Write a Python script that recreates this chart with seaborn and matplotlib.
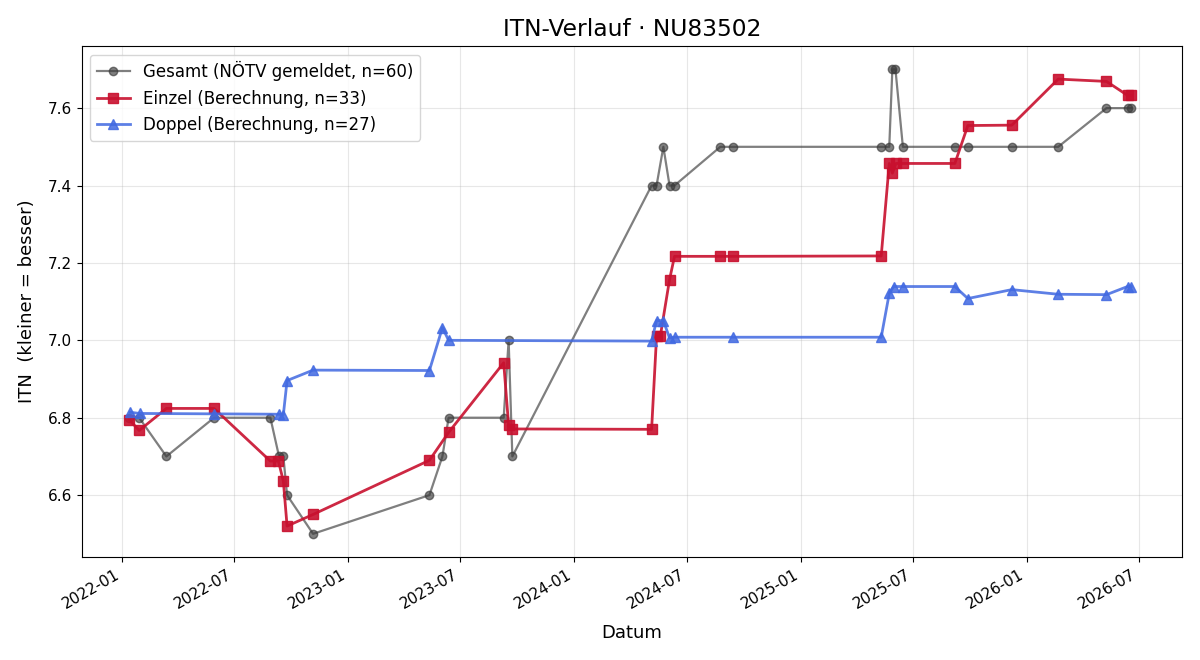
import matplotlib
matplotlib.use("Agg")
import matplotlib.pyplot as plt
import matplotlib.dates as mdates
import seaborn as sns
import pandas as pd

# Gesamt (NÖTV gemeldet)
gesamt_dates = ["2022-01-12", "2022-01-28", "2022-03-13", "2022-05-29", "2022-08-28",
                "2022-09-11", "2022-09-18", "2022-09-24", "2022-11-05", "2023-05-12",
                "2023-06-02", "2023-06-12", "2023-09-09", "2023-09-17", "2023-09-23",
                "2024-05-05", "2024-05-13", "2024-05-24", "2024-06-03", "2024-06-11",
                "2024-08-24", "2024-09-14", "2025-05-11", "2025-05-24", "2025-05-29",
                "2025-06-03", "2025-06-15", "2025-09-07", "2025-09-28", "2025-12-08",
                "2026-02-21", "2026-05-10", "2026-06-13", "2026-06-19"]
gesamt_vals = [6.8, 6.8, 6.7, 6.8, 6.8,
               6.7, 6.7, 6.6, 6.5, 6.6,
               6.7, 6.8, 6.8, 7.0, 6.7,
               7.4, 7.4, 7.5, 7.4, 7.4,
               7.5, 7.5, 7.5, 7.5, 7.7,
               7.7, 7.5, 7.5, 7.5, 7.5,
               7.5, 7.6, 7.6, 7.6]

# Einzel (Berechnung)
einzel_dates = ["2022-01-12", "2022-01-28", "2022-03-13", "2022-05-29", "2022-08-28",
                "2022-09-10", "2022-09-18", "2022-09-24", "2022-11-05", "2023-05-12",
                "2023-06-12", "2023-09-09", "2023-09-17", "2023-09-23", "2024-05-05",
                "2024-05-13", "2024-05-19", "2024-06-03", "2024-06-11", "2024-08-24",
                "2024-09-14", "2025-05-11", "2025-05-24", "2025-05-29", "2025-06-04",
                "2025-06-15", "2025-09-07", "2025-09-28", "2025-12-08", "2026-02-21",
                "2026-05-10", "2026-06-13", "2026-06-19"]
einzel_vals = [6.795, 6.767, 6.824, 6.824, 6.688,
               6.688, 6.636, 6.520, 6.550, 6.690,
               6.762, 6.942, 6.780, 6.771, 6.770,
               7.010, 7.010, 7.157, 7.217, 7.217,
               7.217, 7.218, 7.457, 7.432, 7.457,
               7.457, 7.457, 7.555, 7.556, 7.675,
               7.669, 7.633, 7.633]

# Doppel (Berechnung)
doppel_dates = ["2022-01-14", "2022-01-29", "2022-05-29", "2022-09-11", "2022-09-18",
                "2022-09-24", "2022-11-05", "2023-05-12", "2023-06-02", "2023-06-12",
                "2024-05-05", "2024-05-13", "2024-05-24", "2024-06-03", "2024-06-11",
                "2024-09-14", "2025-05-11", "2025-05-24", "2025-05-31", "2025-06-15",
                "2025-09-07", "2025-09-28", "2025-12-08", "2026-02-21", "2026-05-10",
                "2026-06-13", "2026-06-19"]
doppel_vals = [6.814, 6.811, 6.810, 6.809, 6.808,
               6.896, 6.923, 6.922, 7.033, 7.000,
               6.998, 7.051, 7.051, 7.006, 7.008,
               7.008, 7.008, 7.121, 7.139, 7.139,
               7.139, 7.108, 7.131, 7.119, 7.118,
               7.139, 7.139]

labels = ["Gesamt (NÖTV gemeldet, n=60)", "Einzel (Berechnung, n=33)", "Doppel (Berechnung, n=27)"]
x_range = ["2021-10-27", "2026-09-09"]

df_g = pd.DataFrame({"Datum": pd.to_datetime(gesamt_dates), "ITN": gesamt_vals})
df_e = pd.DataFrame({"Datum": pd.to_datetime(einzel_dates), "ITN": einzel_vals})
df_d = pd.DataFrame({"Datum": pd.to_datetime(doppel_dates), "ITN": doppel_vals})

fig, ax = plt.subplots(figsize=(12, 6.6), dpi=100)

specs = [
    (df_g, "#3a3a3a", 0.65, 1.6, "o", 6, labels[0]),
    (df_e, "#c8102e", 0.9, 2.0, "s", 7, labels[1]),
    (df_d, "#4169e1", 0.85, 2.0, "^", 7, labels[2]),
]
for df, col, a, lw, mk, ms, lab in specs:
    sns.lineplot(data=df, x="Datum", y="ITN", ax=ax, estimator=None, sort=False,
                 color=col, alpha=a, linewidth=lw, marker=mk, markersize=ms,
                 markeredgecolor=col, markerfacecolor=col, markeredgewidth=1,
                 label=lab)

ax.set_title("ITN-Verlauf · NU83502", fontsize=16.8, pad=7.5)
ax.set_xlabel("Datum", fontsize=13, labelpad=9)
ax.set_ylabel("ITN  (kleiner = besser)", fontsize=13, labelpad=8)
ax.grid(True, alpha=0.3)
ax.tick_params(labelsize=11)
ax.set_xlim(pd.Timestamp(x_range[0]), pd.Timestamp(x_range[1]))
ax.xaxis.set_major_locator(mdates.MonthLocator(bymonth=[1, 7]))
ax.xaxis.set_major_formatter(mdates.DateFormatter("%Y-%m"))
ax.legend(loc="upper left", fontsize=12)
fig.autofmt_xdate()
fig.subplots_adjust(left=0.068, right=0.985, top=0.930, bottom=0.156)
fig.savefig("out.png", dpi=100)
